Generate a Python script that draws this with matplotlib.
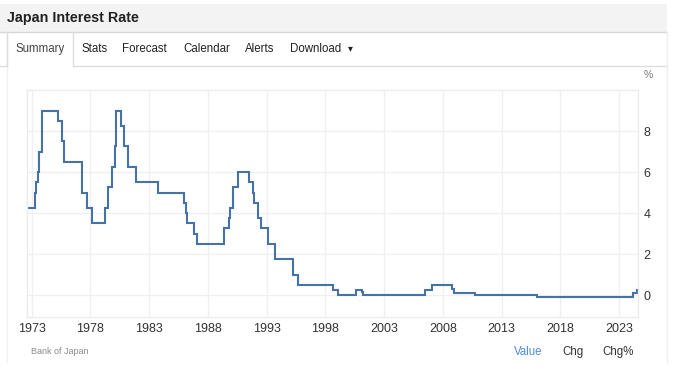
import matplotlib
matplotlib.use("Agg")
import matplotlib.pyplot as plt
from matplotlib.patches import Rectangle
from matplotlib.lines import Line2D
import numpy as np

plt.rcParams['font.family'] = ['Liberation Sans', 'DejaVu Sans']

# ---- data (policy rate changes, %) ----
change_dates = ["1972-06", "1973-04", "1973-05", "1973-07", "1973-08", "1973-12",
                "1975-04", "1975-08", "1975-10", "1977-04", "1977-09", "1978-03",
                "1979-04", "1979-07", "1979-11", "1980-02", "1980-03", "1980-08",
                "1980-11", "1981-03", "1981-12", "1983-10", "1986-01", "1986-03",
                "1986-04", "1986-11", "1987-02", "1989-05", "1989-10", "1989-12",
                "1990-03", "1990-08", "1991-07", "1991-11", "1991-12", "1992-04",
                "1992-07", "1993-02", "1993-09", "1995-04", "1995-09", "1998-09",
                "1999-02", "2000-08", "2001-02", "2001-03", "2006-07", "2007-02",
                "2008-10", "2008-12", "2010-10", "2016-01", "2024-03", "2024-07",
                "2024-08"]
rates = [4.25, 5.0, 5.5, 6.0, 7.0, 9.0,
         8.5, 7.5, 6.5, 5.0, 4.25, 3.5,
         4.25, 5.25, 6.25, 7.25, 9.0, 8.25,
         7.25, 6.25, 5.5, 5.0, 4.5, 4.0,
         3.5, 3.0, 2.5, 3.25, 3.75, 4.25,
         5.25, 6.0, 5.5, 5.0, 4.5, 3.75,
         3.25, 2.5, 1.75, 1.0, 0.5, 0.25,
         0.0, 0.25, 0.15, 0.0, 0.25, 0.5,
         0.3, 0.1, 0.0, -0.1, 0.1, 0.25,
         0.25]
x_tick_years = [1973, 1978, 1983, 1988, 1993, 1998, 2003, 2008, 2013, 2018, 2023]
y_ticks = [0, 2, 4, 6, 8]
title = "Japan Interest Rate"
tabs = ["Summary", "Stats", "Forecast", "Calendar", "Alerts", "Download"]
source = "Bank of Japan"
bottom_links = ["Value", "Chg", "Chg%"]

years = np.array([int(d[:4]) + (int(d[5:7]) - 1) / 12.0 for d in change_dates])
vals = np.array(rates)

W, H = 677, 381
fig = plt.figure(figsize=(W / 100, H / 100), dpi=100)
fig.patch.set_facecolor("white")

# overlay axes for page chrome (pixel coords)
bg = fig.add_axes([0, 0, 1, 1], zorder=-5)
bg.set_xlim(0, W)
bg.set_ylim(H, 0)
bg.axis("off")

bg.add_patch(Rectangle((0, 4), 667, 28, facecolor="#f3f3f3", edgecolor="none"))
bg.add_line(Line2D([0, 667], [32, 32], color="#d6d6d6", lw=1.0))
bg.text(7, 18, title, fontsize=10.3, fontweight="bold", color="#222222",
        ha="left", va="center")
# tab bar
bg.add_line(Line2D([0, 7], [66, 66], color="#dddddd", lw=1.0))
bg.add_line(Line2D([73, 667], [66, 66], color="#dddddd", lw=1.0))
bg.add_line(Line2D([7, 7], [32, 362], color="#f0f0f0", lw=1.0))
bg.add_line(Line2D([7, 7], [32, 66], color="#dddddd", lw=1.0))
bg.add_line(Line2D([73, 73], [32, 66], color="#dddddd", lw=1.0))
bg.add_line(Line2D([667, 667], [32, 362], color="#f0f0f0", lw=1.0))
tab_x = [15, 81, 122, 183, 245, 290]
for tx, t in zip(tab_x, tabs):
    bg.text(tx, 49, t, fontsize=8.3, color="#444444" if t == "Summary" else "#222222",
            ha="left", va="center")
bg.text(350, 48, "\u25BE", fontsize=7, color="#222222", ha="center", va="center",
        family=["DejaVu Sans"])
bg.text(648, 75, "%", fontsize=7.5, color="#777777", ha="center", va="center")
bg.text(31, 352, source, fontsize=6.5, color="#8a8a8a", ha="left", va="center")
link_x = [528, 573, 618]
link_c = ["#4a8fdc", "#333333", "#333333"]
for lx, lt, lc in zip(link_x, bottom_links, link_c):
    bg.text(lx, 352, lt, fontsize=8.3, color=lc, ha="center", va="center")

# main chart
left, right, top, bottom = 27, 638, 90, 317
ax = fig.add_axes([left / W, 1 - bottom / H, (right - left) / W, (bottom - top) / H])
ax.set_facecolor("white")
ax.plot(years, vals, drawstyle="steps-post", color="#4572a7", lw=1.5,
        solid_joinstyle="miter")
ax.set_xlim(1972.6, 2024.6)
ax.set_ylim(-1.07, 10.0)
ax.set_xticks(x_tick_years)
ax.set_xticklabels([str(y) for y in x_tick_years])
ax.set_yticks(y_ticks)
ax.yaxis.tick_right()
ax.tick_params(axis="both", length=0, labelsize=9, labelcolor="#333333")
ax.tick_params(axis="y", pad=4)
ax.tick_params(axis="x", pad=4)
ax.grid(True, color="#f0f0f0", lw=1.0)
ax.set_axisbelow(True)
for s in ax.spines.values():
    s.set_color("#ececec")
    s.set_linewidth(1.0)

fig.savefig("out.png", dpi=100, facecolor="white")
